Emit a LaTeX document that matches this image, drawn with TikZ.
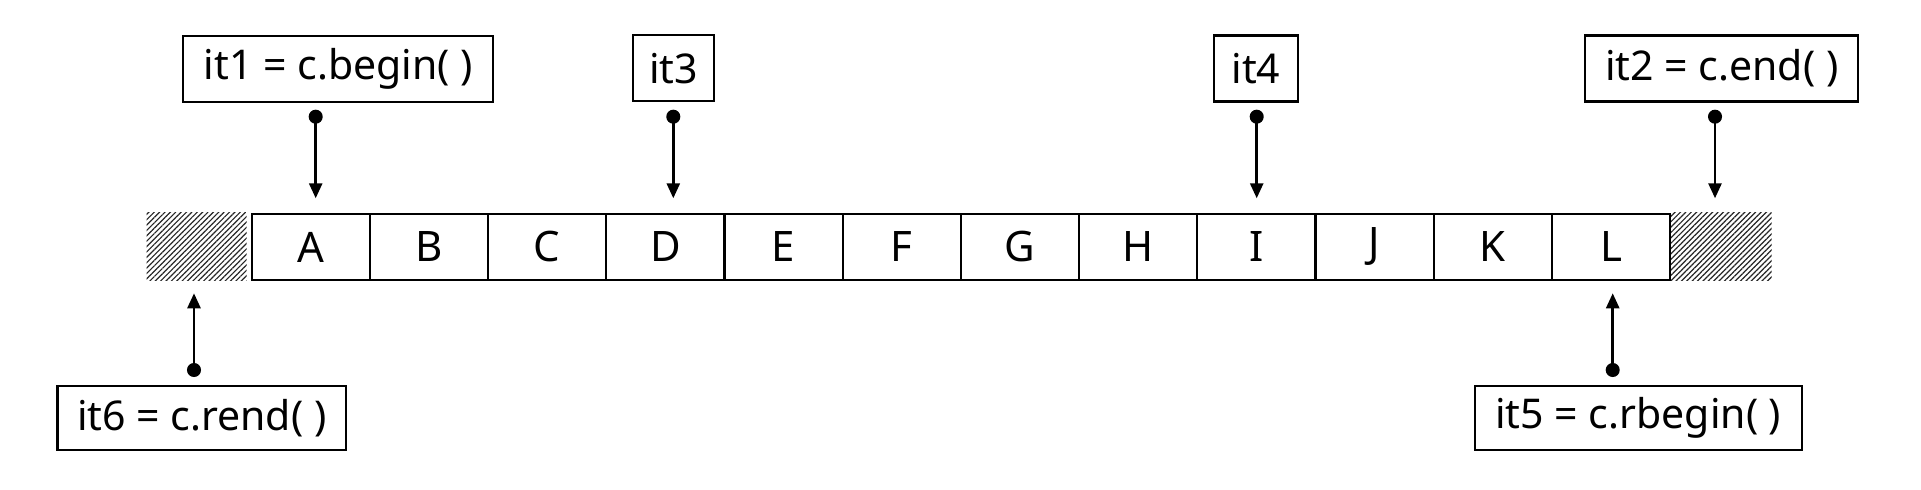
\documentclass[tikz,border=0pt]{standalone}
\usepackage{fontspec}
\setmainfont{Noto Sans}
\usetikzlibrary{arrows.meta,patterns.meta}
\begin{document}
\begin{tikzpicture}[x=0.5pt,y=-0.5pt,
  cell/.style={draw,line width=1.1pt,minimum width=59.1pt,minimum height=33pt,inner sep=0pt,font=\fontsize{21}{24}\selectfont},
  lbl/.style={draw,line width=1.1pt,minimum height=33pt,inner sep=0pt,font=\fontsize{20.5}{24}\selectfont},
  hatch/.style={pattern={Lines[angle=45,distance=1.9pt,line width=0.6pt]},pattern color=black!85},
  ptr/.style={line width=1.3pt,{Circle[length=7pt]}-{Triangle[length=7.5pt,width=6.5pt]}}]
\useasboundingbox (0,0) rectangle (1921,490);
% hatched end boxes
\path[hatch] (146.7,213) rectangle (246.7,281);
\path[hatch] (1671,213) rectangle (1771.7,281);
% cells
\foreach \t [count=\i from 0] in {A,B,C,D,E,F,G,H,I,J,K,L}{
  \node[cell] (c\i) at ({310.8+118.2*\i},247) {\t};
}
% labels
\node[lbl,minimum width=155pt] (l1) at (338.3,68.7) {it1 = c.begin( )};
\node[lbl,minimum width=40.8pt] (l3) at (673.5,68.4) {it3};
\node[lbl,minimum width=41.8pt] (l4) at (1255.9,68.5) {it4};
\node[lbl,minimum width=136.6pt] (l2) at (1721.7,68.5) {it2 = c.end( )};
\node[lbl,minimum width=144.3pt,minimum height=32pt] (l6) at (201.7,418) {it6 = c.rend( )};
\node[lbl,minimum width=163.3pt,minimum height=32pt] (l5) at (1638.3,418.3) {it5 = c.rbegin( )};
% pointer coordinates
\coordinate (s1) at (315.7,109.7); \coordinate (e1) at (315.7,198.3);
\coordinate (s3) at (673.3,109.7); \coordinate (e3) at (673.3,198.3);
\coordinate (s4) at (1256.7,109.7); \coordinate (e4) at (1256.7,198.3);
\coordinate (s2) at (1715,109.7); \coordinate (e2) at (1715,198.3);
\coordinate (s6) at (194,377); \coordinate (e6) at (194,293.3);
\coordinate (s5) at (1612.7,377); \coordinate (e5) at (1612.7,293.3);
\foreach \k in {1,3,4,2,6,5}{ \draw[ptr] (s\k) -- (e\k); }
\end{tikzpicture}
\end{document}
